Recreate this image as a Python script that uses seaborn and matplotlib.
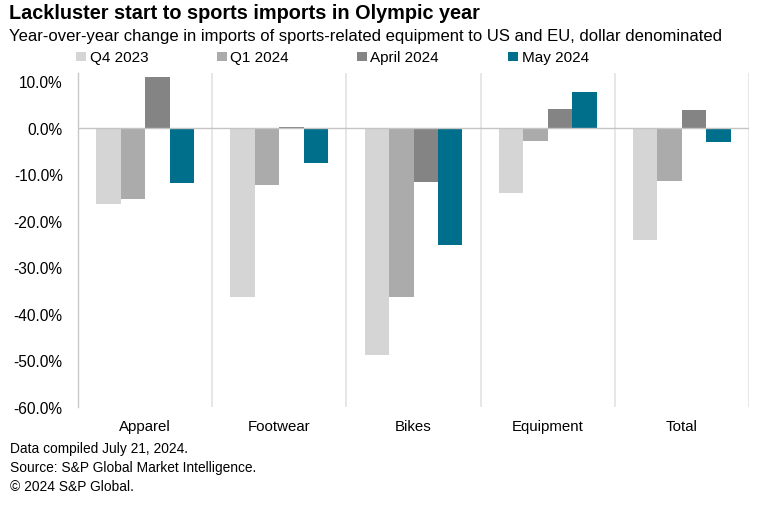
import matplotlib
matplotlib.use("Agg")
import matplotlib.pyplot as plt
from matplotlib.ticker import FuncFormatter
import pandas as pd
import seaborn as sns

categories = ["Apparel", "Footwear", "Bikes", "Equipment", "Total"]
periods = ["Q4 2023", "Q1 2024", "April 2024", "May 2024"]
q4_2023 = [-16.3, -36.3, -48.9, -13.9, -24.1]
q1_2024 = [-15.2, -12.2, -36.3, -2.9, -11.4]
apr_2024 = [10.9, 0.2, -11.7, 4.1, 3.8]
may_2024 = [-11.8, -7.6, -25.1, 7.7, -3.1]
colors = ["#d5d5d5", "#ababab", "#848484", "#006f8c"]

sns.set_theme(style="white")
plt.rcParams["font.family"] = ["Liberation Sans", "DejaVu Sans"]

df = pd.DataFrame({"category": categories, periods[0]: q4_2023, periods[1]: q1_2024,
                   periods[2]: apr_2024, periods[3]: may_2024})
long = df.melt(id_vars="category", var_name="period", value_name="change")

fig = plt.figure(figsize=(7.61, 5.06), dpi=100)
ax = fig.add_axes([78 / 761, 1 - 408 / 506, (749 - 78) / 761, (408 - 74) / 506])

sns.barplot(data=long, x="category", y="change", hue="period", hue_order=periods,
            palette=colors, width=0.73, gap=0, saturation=1, legend=False,
            linewidth=0, ax=ax)

ax.set_xlim(-0.5, 4.5)
ax.set_ylim(-60, 11.8)
ax.set_yticks(range(-60, 11, 10))
ax.yaxis.set_major_formatter(FuncFormatter(lambda v, _: f"{v:.1f}%"))
ax.tick_params(axis="y", labelsize=11.2, colors="black", length=0, pad=11)
ax.tick_params(axis="x", labelsize=10.8, colors="black", length=0, pad=9)
ax.set_xlabel("")
ax.set_ylabel("")
for s in ["top", "right", "bottom"]:
    ax.spines[s].set_visible(False)
ax.spines["left"].set_color("#c8c8c8")
ax.spines["left"].set_linewidth(1)
ax.axhline(0, color="#c4c4c4", lw=1, zorder=1)
for i in range(1, 6):
    ax.axvline(i - 0.5, color="#e0e0e0", lw=1.1, zorder=0)

# legend boxes sit on one row under the subtitle
legend_x = [76, 217, 357, 508]
legend_text_x = [90, 230.5, 370.5, 521.5]
for x, tx, label, c in zip(legend_x, legend_text_x, periods, colors):
    fig.add_artist(plt.Rectangle((x / 761, 1 - 62 / 506), 9.5 / 761, 9.5 / 506,
                                 transform=fig.transFigure, color=c, lw=0))
    fig.text(tx / 761, 1 - 58 / 506, label, fontsize=11, va="center", color="black")

fig.text(9 / 761, 1 - 13.5 / 506, "Lackluster start to sports imports in Olympic year",
         fontsize=14.3, fontweight="bold", va="center", color="black")
fig.text(9 / 761, 1 - 36 / 506,
         "Year-over-year change in imports of sports-related equipment to US and EU, dollar denominated",
         fontsize=11.95, va="center", color="black")
fig.text(10 / 761, 1 - 449 / 506, "Data compiled July 21, 2024.", fontsize=9.9, va="center", color="black")
fig.text(10 / 761, 1 - 468 / 506, "Source: S&P Global Market Intelligence.", fontsize=9.9, va="center", color="black")
fig.text(10 / 761, 1 - 487 / 506, "© 2024 S&P Global.", fontsize=9.9, va="center", color="black")

fig.savefig("out.png", dpi=100)
